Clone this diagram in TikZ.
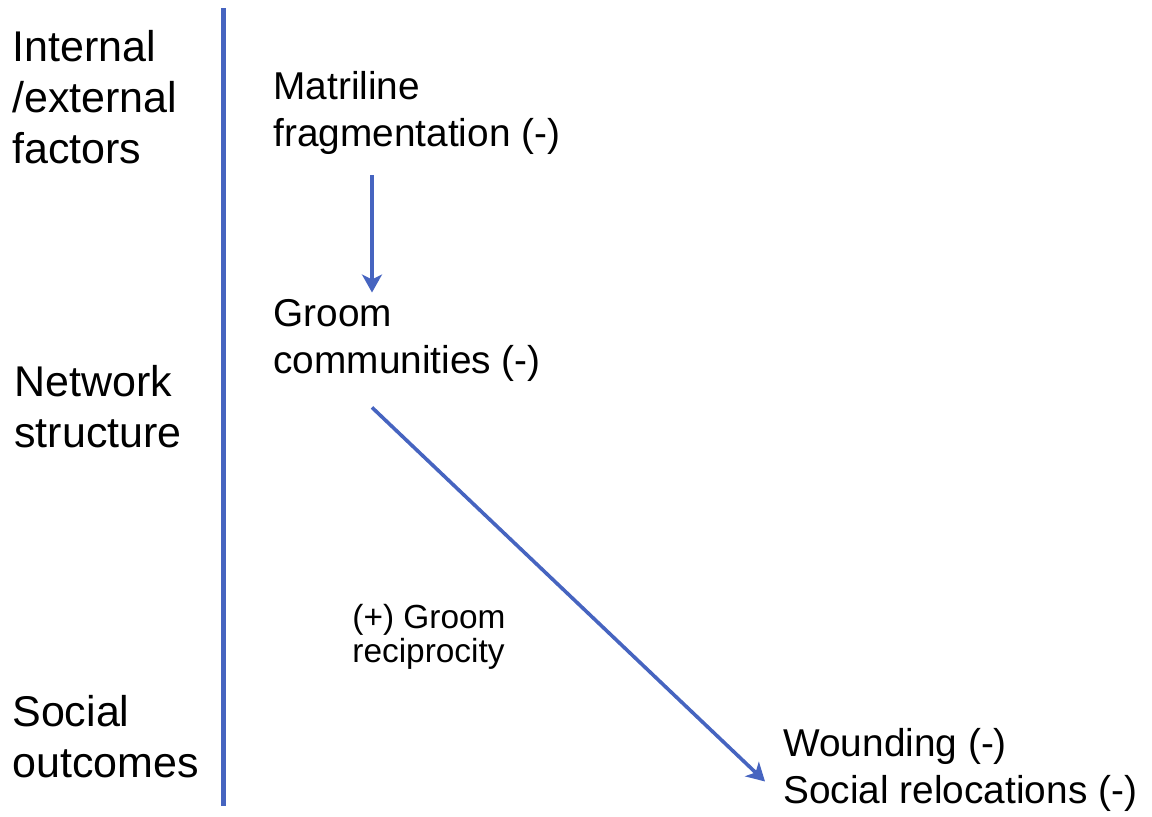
\documentclass[tikz,border=0pt]{standalone}
\usepackage{fontspec}
\setmainfont{Liberation Sans}
\usepackage{xcolor}
\usetikzlibrary{arrows.meta,calc,positioning}
\definecolor{lineblue}{RGB}{70,100,192}
\tikzset{
	level/.style={anchor=base west, align=left, inner sep=0pt,
		font=\fontsize{21.5}{25.3}\selectfont},
	factor/.style={anchor=base west, align=left, inner sep=0pt,
		font=\fontsize{19.4}{23.5}\selectfont},
	effect/.style={anchor=base west, align=left, inner sep=0pt,
		font=\fontsize{16.7}{17}\selectfont},
	divider/.style={draw=lineblue, line width=2.5pt},
	ar/.style={draw=lineblue, line width=1.8pt,
		-{Stealth[length=9pt,width=10pt,inset=2.5pt]}}
}

\begin{document}
\begin{tikzpicture}[x=0.5pt,y=-0.5pt]
	\useasboundingbox (0,0) rectangle (1152,816);
	% levels
	\node[level] (L1) at (12,163) {Internal\\/external\\factors};
	\node[level] (L2) at (14,447) {Network\\structure};
	\node[level] (L3) at (12,777) {Social\\outcomes};
	\draw[divider] (223,8) -- (223,806);
	% factors
	\node[factor] (matri) at (273,146) {Matriline\\fragmentation (-)};
	\node[factor] (groom) at (273,373) {Groom\\communities (-)};
	\node[factor] (outcome) at (783,803) {Wounding (-)\\Social relocations (-)};
	\node[effect] (recip) at (352,662) {(+) Groom\\reciprocity};
	% links
	\draw[ar] ($(matri.south west)+(99,21)$) -- ($(groom.north west)+(99,-6)$);
	\draw[ar] ($(groom.south west)+(99,26)$) -- ($(outcome.west)+(-18,12)$);
\end{tikzpicture}
\end{document}
